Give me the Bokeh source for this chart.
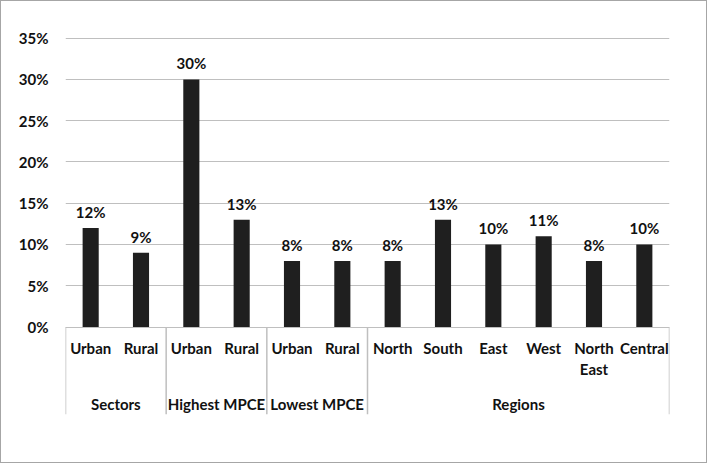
from bokeh.plotting import figure
from bokeh.models import FactorRange, Range1d, FixedTicker, PrintfTickFormatter, ColumnDataSource
from bokeh.core.properties import value
from bokeh.embed import file_html
from bokeh.resources import INLINE

# ---- data ----
groups = ["Sectors", "Highest MPCE", "Lowest MPCE", "Regions"]
subcats = [
    ["Urban", "Rural"],
    ["Urban", "Rural"],
    ["Urban", "Rural"],
    ["North", "South", "East", "West", "North East", "Central"],
]
values = [12, 9, 30, 13, 8, 8, 8, 13, 10, 11, 8, 10]
y_ticks = [0, 5, 10, 15, 20, 25, 30, 35]

FONT = "Lato"
factors = [(g, s) for g, subs in zip(groups, subcats) for s in subs]
sub_text = [s.replace(" ", "\n") for g, s in factors]

x_range = FactorRange(*factors, factor_padding=0, group_padding=0,
                      subgroup_padding=0, range_padding=0)
y_bottom = -10.6
p = figure(x_range=x_range, y_range=Range1d(y_bottom, 35.08),
           width=707, height=463, output_backend="svg", toolbar_location=None,
           min_border_left=64, min_border_right=39, min_border_top=36,
           min_border_bottom=50)
p.styles = {"border": "1px solid #a6a6a6"}
p.outline_line_color = None
p.background_fill_color = "white"
p.border_fill_color = "white"

p.xaxis.visible = False
p.xgrid.visible = False

yax = p.yaxis[0]
yax.ticker = FixedTicker(ticks=y_ticks)
yax.formatter = PrintfTickFormatter(format="%d%%")
yax.axis_line_color = None
yax.major_tick_line_color = None
yax.minor_tick_line_color = None
yax.major_tick_in = 0
yax.major_tick_out = 0
yax.major_label_standoff = 17
yax.major_label_text_font = FONT
yax.major_label_text_font_style = "bold"
yax.major_label_text_font_size = "15px"
yax.major_label_text_color = "#111111"
p.ygrid.ticker = FixedTicker(ticks=y_ticks)
p.ygrid.grid_line_color = "#bfbfbf"
p.ygrid.grid_line_width = 1

src = ColumnDataSource(dict(x=factors, top=values,
                            lbl=[f"{v}%" for v in values], sub=sub_text))
p.vbar(x="x", top="top", bottom=0, width=0.32, source=src,
       fill_color="#1f1f1f", line_color=None)
p.text(x="x", y="top", text="lbl", source=src, text_align="center",
       text_baseline="middle", y_offset=-16, text_font=value(FONT),
       text_font_style="bold", text_font_size="15px", text_color="#111111")

# sub-category labels
p.text(x="x", y=0, text="sub", source=src, text_align="center",
       text_baseline="top", y_offset=12, text_line_height=1.15,
       text_font=value(FONT), text_font_style="bold",
       text_font_size="15px", text_color="#111111")

# group labels
gsrc = ColumnDataSource(dict(x=groups, y=[0] * len(groups), t=groups))
p.text(x="x", y="y", text="t", source=gsrc, text_align="center",
       text_baseline="middle", y_offset=77, text_font=value(FONT),
       text_font_style="bold", text_font_size="15px", text_color="#111111")

# group separators
sep_x = [(g, subs[0], -0.5) for g, subs in zip(groups, subcats)]
sep_x.append((groups[-1], subcats[-1][-1], 0.5))
p.segment(x0=sep_x, x1=sep_x, y0=[0] * len(sep_x), y1=[y_bottom] * len(sep_x),
          line_color="#bfbfbf", line_width=1.5)

open("out.html", "w").write(file_html(p, INLINE))
